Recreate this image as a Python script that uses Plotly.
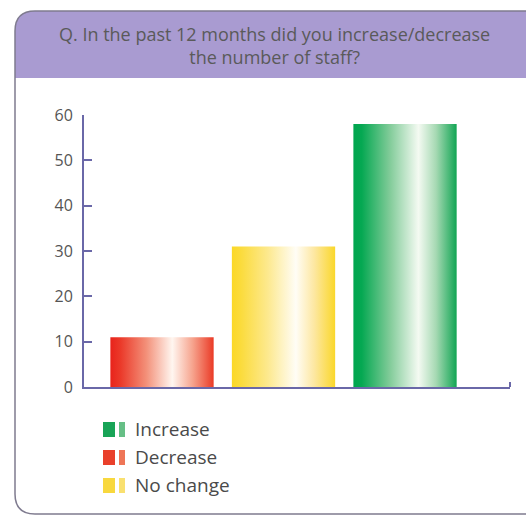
import plotly.graph_objects as go

# Survey answers (percent of respondents)
categories = ["Decrease", "No change", "Increase"]
values = [11, 31, 58]
legend_labels = ["Increase", "Decrease", "No change"]
y_ticks = [0, 10, 20, 30, 40, 50, 60]

# Colour ramps for each category: solid edge -> white highlight -> solid edge
ramps = {
    "Decrease": [[0, "#e8231b"], [0.1, "#eb3a2a"], [0.35, "#f3917a"], [0.6, "#fff6f0"],
                 [0.8, "#f6a28c"], [1, "#ea3a26"]],
    "No change": [[0, "#fbd826"], [0.1, "#fbdc40"], [0.35, "#fde98f"], [0.62, "#fffdf6"],
                  [0.8, "#fde7a0"], [1, "#fad72a"]],
    "Increase": [[0, "#00a64f"], [0.08, "#05a852"], [0.35, "#80cb98"], [0.63, "#f4faf2"],
                 [0.8, "#a6d9b3"], [1, "#11a553"]],
}
icon_colors = {
    "Increase": ("#18a457", "#66bf86"),
    "Decrease": ("#e9402b", "#ee7557"),
    "No change": ("#f8d83e", "#f9e070"),
}

W, H = 526, 518
L_PX, R_PX, T_PX, B_PX = 84, 510, 115, 387
BAR_W = 0.85


def px(x):
    return (x - L_PX) / (R_PX - L_PX)


def py(y):
    return (B_PX - y) / (B_PX - T_PX)


fig = go.Figure()

for i, (cat, val) in enumerate(zip(categories, values)):
    x0, x1 = i - BAR_W / 2, i + BAR_W / 2
    fig.add_trace(go.Scatter(
        x=[x0, x1, x1, x0, x0], y=[0, 0, val, val, 0],
        mode="lines", line=dict(width=0), fill="toself",
        fillgradient=dict(type="horizontal", colorscale=ramps[cat]),
        name=cat, showlegend=False, hoverinfo="skip",
    ))


def rounded_path(l, t, r, b, rad, top_only=False):
    rx = rad / (R_PX - L_PX)
    ry = rad / (B_PX - T_PX)
    L, R, T, B = px(l), px(r), py(t), py(b)
    if top_only:
        return (f"M {L},{B} L {L},{T - ry} Q {L},{T} {L + rx},{T} "
                f"L {R - rx},{T} Q {R},{T} {R},{T - ry} L {R},{B} Z")
    return (f"M {L},{B + ry} L {L},{T - ry} Q {L},{T} {L + rx},{T} "
            f"L {R - rx},{T} Q {R},{T} {R},{T - ry} L {R},{B + ry} "
            f"Q {R},{B} {R - rx},{B} L {L + rx},{B} Q {L},{B} {L},{B + ry} Z")


shapes = [
    dict(type="path", xref="paper", yref="paper", layer="below",
         path=rounded_path(15, 11, 545, 514, 20), fillcolor="white", line=dict(width=0)),
    dict(type="path", xref="paper", yref="paper", layer="below",
         path=rounded_path(15, 11, 545, 78, 20, top_only=True),
         fillcolor="#a99bd1", line=dict(width=0)),
    dict(type="path", xref="paper", yref="paper", layer="below",
         path=rounded_path(15, 11, 545, 514, 20), fillcolor="rgba(0,0,0,0)",
         line=dict(color="#7f7b8f", width=1.5)),
    # small end tick on the category axis
    dict(type="line", xref="paper", yref="paper", x0=1, x1=1, y0=0, y1=py(382),
         line=dict(color="#6a68a8", width=2)),
]

annotations = [
    dict(text="Q. In the past 12 months did you increase/decrease<br>the number of staff?",
         xref="paper", yref="paper", x=px(274), y=py(45), showarrow=False,
         xanchor="center", yanchor="middle", align="center",
         font=dict(family="Open Sans", size=18, color="#5a5a5a")),
]

legend_y = [429, 457, 485]
for lab, yc in zip(legend_labels, legend_y):
    c1, c2 = icon_colors[lab]
    shapes.append(dict(type="rect", xref="paper", yref="paper", x0=px(103), x1=px(115),
                       y0=py(yc + 8), y1=py(yc - 7), fillcolor=c1, line=dict(width=0)))
    shapes.append(dict(type="rect", xref="paper", yref="paper", x0=px(119), x1=px(125),
                       y0=py(yc + 8), y1=py(yc - 7), fillcolor=c2, line=dict(width=0)))
    annotations.append(dict(text=lab, xref="paper", yref="paper", x=px(133), y=py(yc),
                            showarrow=False, xanchor="left", yanchor="middle",
                            font=dict(family="Open Sans", size=19, color="#4a4a4a")))

fig.update_layout(
    width=W, height=H,
    margin=dict(l=L_PX, r=W - R_PX, t=T_PX, b=H - B_PX),
    paper_bgcolor="white", plot_bgcolor="rgba(0,0,0,0)",
    shapes=shapes, annotations=annotations, showlegend=False,
    xaxis=dict(range=[-0.642, 2.864], showgrid=False, zeroline=False,
               showticklabels=False, ticks="", showline=True,
               linecolor="#6a68a8", linewidth=2, fixedrange=True),
    yaxis=dict(range=[0, 60], tickvals=y_ticks, showgrid=False, zeroline=False,
               showline=True, linecolor="#6a68a8", linewidth=2,
               ticks="inside", ticklen=8, tickwidth=2, tickcolor="#6a68a8",
               ticklabelstandoff=6,
               tickfont=dict(family="Open Sans", size=16, color="#555555"),
               fixedrange=True),
)

fig.write_html("out.html")
